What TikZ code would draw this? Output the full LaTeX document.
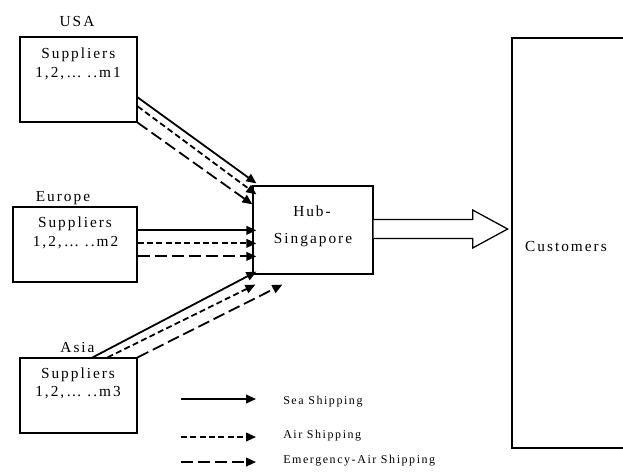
\documentclass[tikz,border=0pt]{standalone}
\usepackage{fontspec}
\setmainfont{Liberation Serif}[LetterSpace=13]
\usetikzlibrary{arrows.meta,calc}
\tikzset{
  box/.style={draw, line width=0.95pt, inner sep=0pt},
  txt/.style={font=\fontsize{11.5}{13}\selectfont, inner sep=0pt, anchor=base},
  legtxt/.style={font=\fontsize{9}{11}\selectfont, inner sep=0pt, anchor=base west},
  link/.style={line width=1.35pt, -{Triangle[length=7.5pt,width=6.5pt]}},
  sea/.style={link},
  air/.style={link, dash pattern=on 4.5pt off 2.5pt},
  emer/.style={link, dash pattern=on 9pt off 3.75pt},
}
\begin{document}
\begin{tikzpicture}[x=0.75pt,y=-0.75pt]
\useasboundingbox (0,0) rectangle (623,472);
\clip (0,0) rectangle (623,472);

% boxes
\node[box, minimum width=117*0.75pt, minimum height=85*0.75pt] (usa) at (78.5,79.5) {};
\node[box, minimum width=124*0.75pt, minimum height=75*0.75pt] (eur) at (75,244.5) {};
\node[box, minimum width=117*0.75pt, minimum height=75*0.75pt] (asia) at (78.5,395.5) {};
\node[box, minimum width=120*0.75pt, minimum height=88*0.75pt] (hub) at (313,230) {};
\node[box, minimum width=128*0.75pt, minimum height=410*0.75pt] (cust) at (576,243) {};

% texts
\node[txt] (usalbl) at (77,26.7) {USA};
\node[txt] (usas) at (78.3,58.3) {Suppliers};
\node[txt] (usam) at (78,77.7) {1,2,… ..m1};
\node[txt] (eurlbl) at (63,201.7) {Europe};
\node[txt] (eurs) at (75,227.7) {Suppliers};
\node[txt] (eurm) at (75.5,246) {1,2,… ..m2};
\node[txt] (asialbl) at (77.5,352.7) {Asia};
\node[txt] (asias) at (78,378.3) {Suppliers};
\node[txt] (asiam) at (78,396.7) {1,2,… ..m3};
\node[txt] (hub1) at (312,216) {Hub-};
\node[txt] (hub2) at (313,243.3) {Singapore};
\node[txt] (custt) at (566,251.3) {Customers};

% USA arrows
\draw[sea]  ($(usa.north east)+(0,61)$) -- ($(hub.north west)+(4,-2)$);
\draw[air]  ($(usa.north east)+(0,70)$) -- ($(hub.north west)+(4,9)$);
\draw[emer] (usa.south east) -- ($(hub.north west)+(0,19)$);

% Europe arrows
\draw[sea]  ($(eur.north east)+(0,24)$) -- ($(hub.north west)+(4,45)$);
\draw[air]  ($(eur.north east)+(0,37)$) -- ($(hub.north west)+(4,58)$);
\draw[emer] ($(eur.north east)+(0,50)$) -- ($(hub.north west)+(4,71)$);

% Asia arrows
\draw[sea]  ($(asia.north east)+(-45,0)$) -- ($(hub.south west)+(4,-3)$);
\draw[air]  ($(asia.north east)+(-30,0)$) -- ($(hub.south west)+(3,10)$);
\draw[emer] (asia.north east) -- ($(hub.south west)+(30,10)$);

% big arrow hub -> customers
\coordinate (ba) at ($(hub.east)+(0,-1)$);
\draw[line width=0.95pt, fill=white]
  ($(ba)+(0,-9.5)$) -- ($(ba)+(99,-9.5)$) -- ($(ba)+(99,-19)$) --
  ($(ba)+(134,0)$) -- ($(ba)+(99,19)$) -- ($(ba)+(99,9.5)$) --
  ($(ba)+(0,9.5)$);

% legend
\coordinate (l1a) at (181,399); \coordinate (l1b) at (256,399);
\coordinate (l2a) at (181,437); \coordinate (l2b) at (256,437);
\coordinate (l3a) at (181,462); \coordinate (l3b) at (256,462);
\draw[sea] (l1a) -- (l1b);
\draw[air] (l2a) -- (l2b);
\draw[emer] (l3a) -- (l3b);
\node[legtxt] (lt1) at (283,404) {Sea Shipping};
\node[legtxt] (lt2) at (283,438) {Air Shipping};
\node[legtxt] (lt3) at (283,463) {Emergency-Air Shipping};
\end{tikzpicture}
\end{document}
